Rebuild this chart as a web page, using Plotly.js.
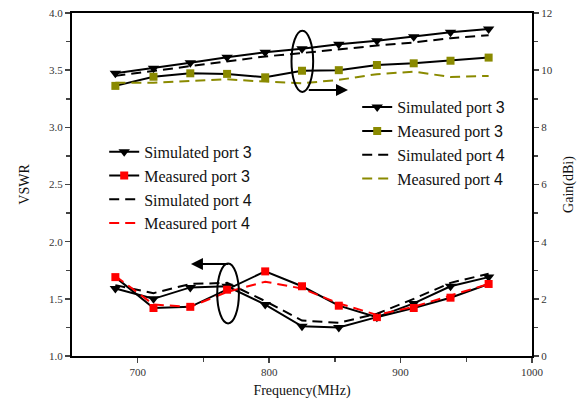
<!DOCTYPE html>
<html>
<head>
<meta charset="utf-8">
<script src="https://cdn.plot.ly/plotly-3.0.1.min.js"></script>
<style>html,body{margin:0;padding:0;background:#fff;}#chart{width:587px;height:406px;}</style>
</head>
<body>
<div id="chart"></div>
<script>
const freq = [683, 712, 740, 768, 797, 825, 853, 882, 910, 938, 967];

// VSWR (left axis)
const vswrSim3  = [1.59, 1.50, 1.60, 1.61, 1.45, 1.26, 1.25, 1.34, 1.46, 1.61, 1.69];
const vswrMeas3 = [1.69, 1.42, 1.43, 1.58, 1.74, 1.61, 1.44, 1.34, 1.42, 1.51, 1.63];
const vswrSim4  = [1.62, 1.55, 1.63, 1.64, 1.48, 1.31, 1.29, 1.37, 1.50, 1.64, 1.72];
const vswrMeas4 = [1.70, 1.45, 1.43, 1.56, 1.65, 1.59, 1.46, 1.36, 1.43, 1.53, 1.63];

// Gain (right axis)
const gainSim3  = [9.89, 10.07, 10.26, 10.45, 10.63, 10.75, 10.91, 11.03, 11.17, 11.33, 11.44];
const gainMeas3 = [9.45, 9.77, 9.89, 9.87, 9.75, 9.98, 10.00, 10.18, 10.24, 10.33, 10.44];
const gainSim4  = [9.80, 9.97, 10.14, 10.32, 10.48, 10.60, 10.74, 10.86, 10.97, 11.12, 11.22];
const gainMeas4 = [9.56, 9.56, 9.62, 9.68, 9.60, 9.54, 9.66, 9.86, 9.95, 9.76, 9.80];

const lab = (t, n) => t + ' <span style="font-family:\'Liberation Sans\'">' + n + '</span>';
const OLIVE = '#8a8a00';
const dash = '10px,6px';

const traces = [
  {x: freq, y: vswrSim3, name: lab('Simulated port', 3), mode: 'lines+markers',
   line: {color: '#000', width: 2}, marker: {symbol: 'triangle-down', size: 10, color: '#000'}, legend: 'legend'},
  {x: freq, y: vswrMeas3, name: lab('Measured port', 3), mode: 'lines+markers',
   line: {color: '#000', width: 2}, marker: {symbol: 'square', size: 8, color: '#ff0000'}, legend: 'legend'},
  {x: freq, y: vswrSim4, name: lab('Simulated port', 4), mode: 'lines',
   line: {color: '#000', width: 2, dash: dash}, legend: 'legend'},
  {x: freq, y: vswrMeas4, name: lab('Measured port', 4), mode: 'lines',
   line: {color: '#ff0000', width: 2, dash: dash}, legend: 'legend'},

  {x: freq, y: gainSim3, name: lab('Simulated port', 3), mode: 'lines+markers', yaxis: 'y2',
   line: {color: '#000', width: 2}, marker: {symbol: 'triangle-down', size: 10, color: '#000'}, legend: 'legend2'},
  {x: freq, y: gainMeas3, name: lab('Measured port', 3), mode: 'lines+markers', yaxis: 'y2',
   line: {color: '#000', width: 2}, marker: {symbol: 'square', size: 8, color: OLIVE}, legend: 'legend2'},
  {x: freq, y: gainSim4, name: lab('Simulated port', 4), mode: 'lines', yaxis: 'y2',
   line: {color: '#000', width: 2, dash: dash}, legend: 'legend2'},
  {x: freq, y: gainMeas4, name: lab('Measured port', 4), mode: 'lines', yaxis: 'y2',
   line: {color: OLIVE, width: 2, dash: dash}, legend: 'legend2'}
];

const tickFont = {family: 'Liberation Serif, Times New Roman, serif', size: 11, color: '#333'};
const titleFont = {family: 'Liberation Serif, Times New Roman, serif', size: 14, color: '#111'};
const legFont = {family: 'Liberation Serif, Times New Roman, serif', size: 16, color: '#111'};

const layout = {
  width: 587, height: 406,
  margin: {l: 72, r: 55, t: 13, b: 50},
  paper_bgcolor: '#fff', plot_bgcolor: '#fff',
  showlegend: true,
  xaxis: {
    range: [650, 1000], tickvals: [700, 800, 900, 1000], ticks: 'outside', ticklen: 5, tickwidth: 1.5,
    minor: {tickvals: [750, 850, 950], ticks: 'outside', ticklen: 4, tickwidth: 1.5},
    showline: true, linecolor: '#000', linewidth: 2, mirror: true, showgrid: false, zeroline: false,
    tickfont: tickFont, title: {text: 'Frequency(MHz)', font: titleFont, standoff: 8}
  },
  yaxis: {
    range: [1.0, 4.0], dtick: 0.5, tick0: 1, tickformat: '.1f', ticks: 'outside', ticklen: 5, tickwidth: 1.5,
    minor: {dtick: 0.25, ticks: 'outside', ticklen: 4, tickwidth: 1.5},
    showline: true, linecolor: '#000', linewidth: 2, showgrid: false, zeroline: false,
    tickfont: tickFont, title: {text: 'VSWR', font: titleFont, standoff: 16}
  },
  yaxis2: {
    range: [0, 12], dtick: 2, overlaying: 'y', side: 'right', ticks: 'outside', ticklen: 5, tickwidth: 1.5,
    minor: {dtick: 1, ticks: 'outside', ticklen: 4, tickwidth: 1.5},
    showline: true, linecolor: '#000', linewidth: 2, showgrid: false, zeroline: false,
    tickfont: tickFont, title: {text: 'Gain(dBi)', font: titleFont, standoff: 11}
  },
  legend: {x: 0.07, y: 0.645, xanchor: 'left', yanchor: 'top', bgcolor: 'rgba(0,0,0,0)',
           font: legFont, tracegroupgap: 0, itemwidth: 30},
  legend2: {x: 0.62, y: 0.775, xanchor: 'left', yanchor: 'top', bgcolor: 'rgba(0,0,0,0)',
            font: legFont, tracegroupgap: 0, itemwidth: 30},
  shapes: [
    {type: 'circle', xref: 'x', yref: 'y', x0: 817, x1: 833.5, y0: 3.31, y1: 3.845,
     line: {color: '#000', width: 2}},
    {type: 'circle', xref: 'x', yref: 'y', x0: 760.5, x1: 777, y0: 1.285, y1: 1.81,
     line: {color: '#000', width: 2}}
  ],
  annotations: [
    {x: 860, y: 3.326, ax: 829, ay: 3.326, xref: 'x', yref: 'y', axref: 'x', ayref: 'y',
     showarrow: true, arrowhead: 2, arrowsize: 1.2, arrowwidth: 2, arrowcolor: '#000', text: ''},
    {x: 740.5, y: 1.804, ax: 770, ay: 1.804, xref: 'x', yref: 'y', axref: 'x', ayref: 'y',
     showarrow: true, arrowhead: 2, arrowsize: 1.2, arrowwidth: 2, arrowcolor: '#000', text: ''}
  ]
};

Plotly.newPlot('chart', traces, layout, {staticPlot: true, displayModeBar: false});
</script>
</body>
</html>
